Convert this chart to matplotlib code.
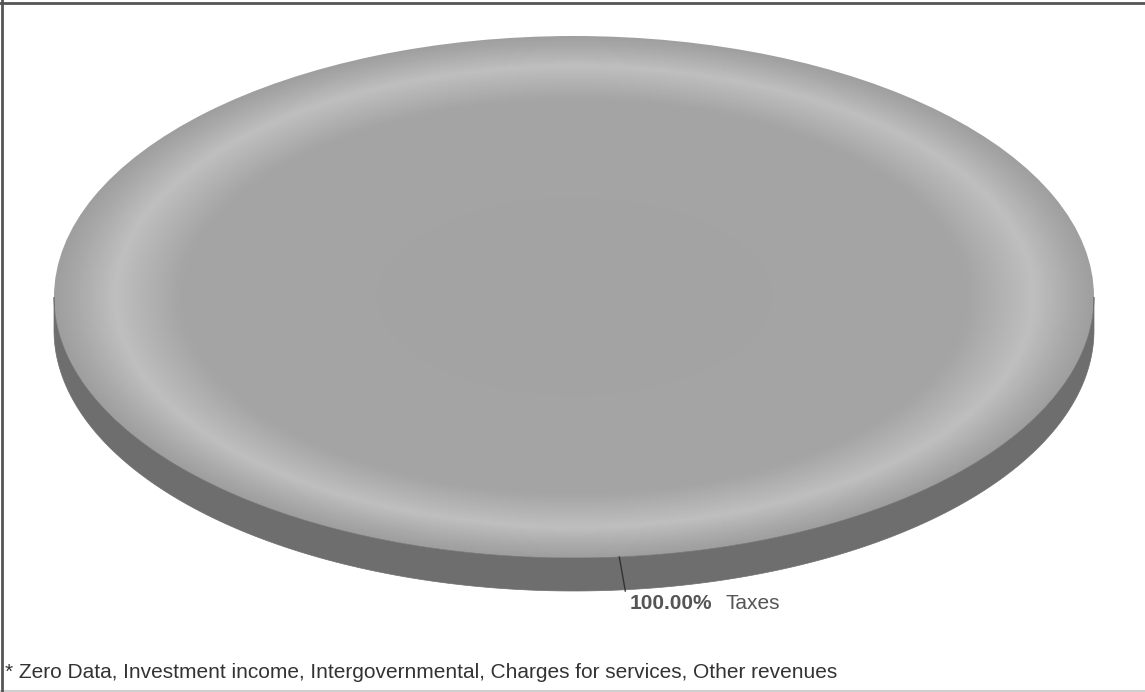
import numpy as np
import matplotlib.pyplot as plt
from matplotlib.patches import Wedge, Polygon
from matplotlib.colors import LinearSegmentedColormap

plt.rcParams['font.family'] = ['Liberation Sans', 'DejaVu Sans']

# data
categories = ["Taxes", "Investment income", "Intergovernmental",
              "Charges for services", "Other revenues"]
values = [100.0, 0.0, 0.0, 0.0, 0.0]
zero_note = "* Zero Data, Investment income, Intergovernmental, Charges for services, Other revenues"

W, H = 1145, 692
fig = plt.figure(figsize=(W / 100, H / 100), dpi=100)
ax = fig.add_axes([0, 0, 1, 1])

# pie geometry in pixels -> data units (unit circle becomes the ellipse)
cx, cy = 574, 297          # centre (from top)
rx, ry = 520, 261
depth = 33 / ry
ax.set_xlim(-cx / rx, (W - cx) / rx)
ax.set_ylim(-(H - cy) / ry, cy / ry)
ax.axis("off")

shares = [v / sum(values) for v in values]
start = 95.0
side_color = "#6e6e6e"

# radial gradient for the top face
cmap = LinearSegmentedColormap.from_list(
    "face", [(0.0, "#a3a3a3"), (0.76, "#a5a5a5"), (0.885, "#bfbfbf"),
             (0.96, "#a9a9a9"), (1.0, "#9f9f9f")])
gx = np.linspace(-1.02, 1.02, 900)
gy = np.linspace(-1.02, 1.02, 500)
GX, GY = np.meshgrid(gx, gy)
R = np.clip(np.sqrt(GX ** 2 + GY ** 2), 0, 1)

theta = start
for share, name in zip(shares, categories):
    if share <= 0:
        continue
    t1, t2 = theta, theta + share * 360
    # visible side: front half of the rim
    a = np.radians(np.linspace(180, 360, 300))
    top = np.column_stack([np.cos(a), np.sin(a)])
    bot = np.column_stack([np.cos(a[::-1]), np.sin(a[::-1]) - depth])
    ax.add_patch(Polygon(np.vstack([top, bot]), closed=True,
                         facecolor=side_color, edgecolor=side_color, lw=0.5))
    wedge = Wedge((0, 0), 1, t1, t2, facecolor="none", edgecolor="none")
    ax.add_patch(wedge)
    im = ax.imshow(R, cmap=cmap, vmin=0, vmax=1, origin="lower",
                   extent=(gx[0], gx[-1], gy[0], gy[-1]), aspect="auto",
                   interpolation="bilinear")
    im.set_clip_path(wedge)

    # label with leader line
    mid = np.radians(t1 + share * 180)
    x0, y0 = np.cos(mid), np.sin(mid)
    x1, y1 = x0 + 6 / rx, y0 - depth - 1 / ry
    ax.plot([x0, x1], [y0, y1], color="#333333", lw=1)
    ax.annotate(f"{share * 100:.2f}%", (x1, y1), xytext=(4, -12),
                textcoords="offset pixels", fontsize=15, fontweight="bold",
                color="#555555", ha="left", va="center")
    ax.annotate(name, (x1, y1), xytext=(100, -12), textcoords="offset pixels",
                fontsize=15, color="#555555", ha="left", va="center")
    theta = t2

ax.set_xlim(-cx / rx, (W - cx) / rx)
ax.set_ylim(-(H - cy) / ry, cy / ry)

fig.text(5 / W, 1 - 673 / H, zero_note, fontsize=15, color="#333333",
         ha="left", va="center")

# frame
fig.add_artist(plt.Line2D([0, 1], [1.5 / H] * 2, color="#d0d0d0", lw=1.5))
fig.add_artist(plt.Line2D([0, 1], [1 - 2.5 / H] * 2, color="#555555", lw=2))
fig.add_artist(plt.Line2D([2 / W] * 2, [0, 1], color="#555555", lw=2))

fig.savefig("out.png", dpi=100)
